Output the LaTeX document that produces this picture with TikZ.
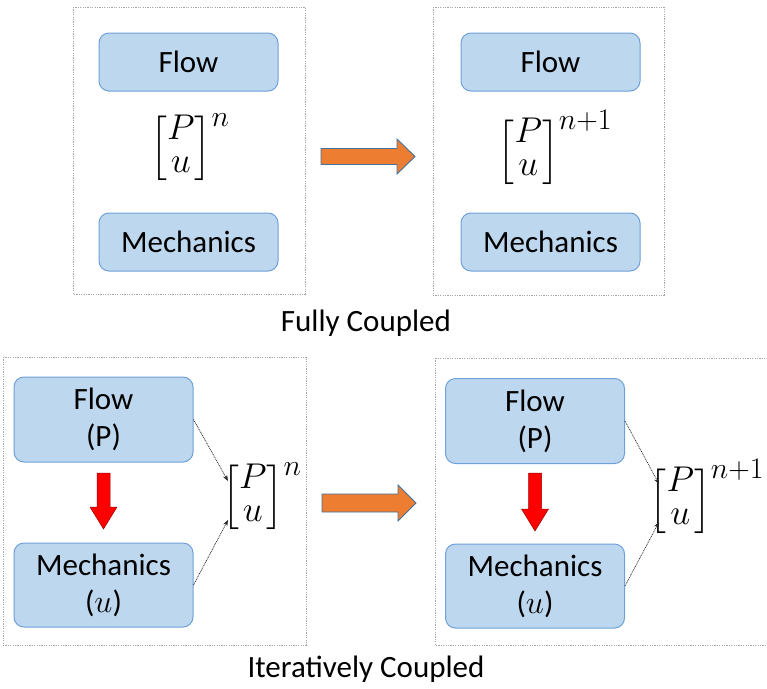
\documentclass[tikz,border=0pt]{standalone}
\usepackage{amsmath}
\usepackage{graphicx}
\usepackage{fontspec}
\setmainfont{Carlito}
\usetikzlibrary{arrows.meta}

\definecolor{boxfill}{HTML}{BDD7EE}
\definecolor{boxline}{HTML}{6FA0D8}
\definecolor{blockorange}{HTML}{ED7D31}
\definecolor{blockedge}{HTML}{41719C}
\definecolor{framegray}{HTML}{A6A6A6}

% state vector [P; u]^k, set at the largest math size and enlarged
\newcommand{\stvec}[1]{\scalebox{1.44}{\fontsize{24.88}{25}\selectfont
  $\renewcommand{\arraystretch}{0.92}\begin{bmatrix}P\\u\end{bmatrix}^{#1}$}}
% displacement symbol inside the box labels, matched to the 31pt text
\newcommand{\dispsym}{\scalebox{1.3}{\fontsize{24.88}{25}\selectfont$u$}}

\tikzset{
  frame/.style={draw=framegray, line width=0.8pt, dash pattern=on 1.2pt off 1.2pt},
  modelbox/.style={draw=boxline, fill=boxfill, line width=1pt, rounded corners=10pt,
    minimum width=179pt, align=center, inner sep=0pt,
    font=\fontsize{31}{37}\selectfont},
  statevec/.style={inner sep=0pt},
  caption/.style={font=\fontsize{31}{37}\selectfont},
  steparrow/.style={fill=blockorange, draw=blockedge, line width=0.9pt, line join=miter},
  orderarrow/.style={fill=red, draw=red!60!black, line width=0.5pt},
  feed/.style={draw=black!85, line width=0.7pt, dash pattern=on 1pt off 0.8pt,
    -{Stealth[length=6pt,width=4.5pt]}}
}

\begin{document}
\begin{tikzpicture}[x=1pt,y=-1pt]
\useasboundingbox (0,0) rectangle (767,688);

% ---------- fully coupled: time level n ----------
\draw[frame] (73,7) rectangle (305,294);
\node[modelbox, minimum height=58pt] (f1) at (188.5,62) {Flow};
\node[modelbox, minimum height=58pt] (m1) at (188.5,242) {Mechanics};
\node[statevec] (v1) at (190,148) {\stvec{n}};

% ---------- fully coupled: time level n+1 ----------
\draw[frame] (433,7) rectangle (664,295);
\node[modelbox, minimum height=58pt] (f2) at (550.5,62) {Flow};
\node[modelbox, minimum height=58pt] (m2) at (550.5,242) {Mechanics};
\node[statevec] (v2) at (555,148) {\stvec{n+1}};

% time step
\draw[steparrow] (321,148.5) -- (397,148.5) -- (397,139) -- (415,156.5)
  -- (397,174) -- (397,164.5) -- (321,164.5) -- cycle;

\node[caption] (c1) at (366,323) {Fully Coupled};

% ---------- iteratively coupled: time level n ----------
\draw[frame] (3,357) rectangle (306,645);
\node[modelbox, minimum height=85pt] (f3) at (103.5,419.5) {Flow\\(P)};
\node[modelbox, minimum height=84pt] (m3) at (103.5,585) {Mechanics\\(\dispsym)};
\node[statevec] (v3) at (262,497) {\stvec{n}};
\coordinate (v3a) at (228,481);
\coordinate (v3b) at (228,520);
\draw[feed] (f3.east) -- (v3a);
\draw[feed] (m3.east) -- (v3b);
\draw[orderarrow] (97,473) -- (110,473) -- (110,507) -- (117,507) -- (103.5,529)
  -- (90,507) -- (97,507) -- cycle;

% ---------- iteratively coupled: time level n+1 ----------
\begin{scope}
\clip (0,0) rectangle (767,688);
\draw[frame] (435,358) rectangle (780,645);
\end{scope}
\node[modelbox, minimum height=85pt] (f4) at (535,421) {Flow\\(P)};
\node[modelbox, minimum height=84pt] (m4) at (535,586) {Mechanics\\(\dispsym)};
\node[statevec] (v4) at (707,497) {\stvec{n+1}};
\coordinate (v4a) at (659,484);
\coordinate (v4b) at (659,522);
\draw[feed] (f4.east) -- (v4a);
\draw[feed] (m4.east) -- (v4b);
\draw[orderarrow] (528.5,473) -- (541.5,473) -- (541.5,509) -- (548.5,509) -- (535,531)
  -- (521.5,509) -- (528.5,509) -- cycle;

% time step
\draw[steparrow] (322,494) -- (398,494) -- (398,485) -- (416,503)
  -- (398,521) -- (398,512) -- (322,512) -- cycle;

\node[caption] (c2) at (366,669) {Iteratively Coupled};
\end{tikzpicture}
\end{document}
